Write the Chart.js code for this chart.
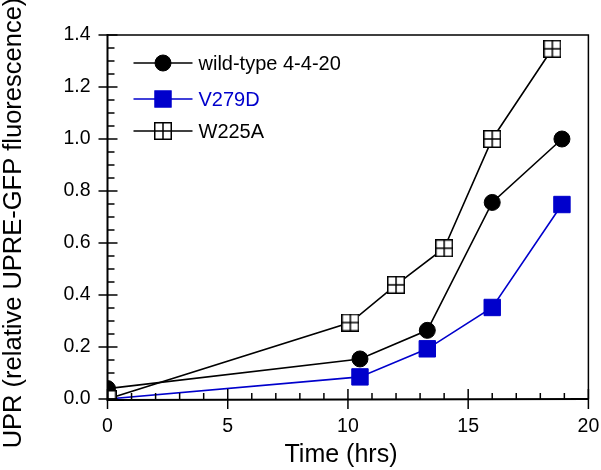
<!DOCTYPE html>
<html>
<head>
<meta charset="utf-8">
<script src="https://cdn.jsdelivr.net/npm/chart.js@4.4.1/dist/chart.umd.min.js"></script>
<style>
html,body{margin:0;padding:0;background:#fff;}
#wrap{width:601px;height:470px;position:relative;}
</style>
</head>
<body>
<div id="wrap"><canvas id="c" width="601" height="470"></canvas></div>
<script>
// ---- data ----
const seriesNames = ['wild-type 4-4-20', 'V279D', 'W225A'];
const wtX = [0, 10.5, 13.3, 16.0, 18.9];
const wtY = [0.04, 0.154, 0.264, 0.756, 1.0];
const v279dX = [0, 10.5, 13.3, 16.0, 18.9];
const v279dY = [0, 0.085, 0.193, 0.352, 0.748];
const w225aX = [0, 10.1, 12.0, 14.0, 16.0, 18.5];
const w225aY = [0, 0.294, 0.439, 0.58, 1.0, 1.347];
const xTicks = [0, 5, 10, 15, 20];
const yTicks = [0, 0.2, 0.4, 0.6, 0.8, 1.0, 1.2, 1.4];
const xTitle = 'Time (hrs)';
const yTitle = 'UPR (relative UPRE-GFP fluorescence)';

const BLUE = '#0000cc';
const FONT = '"Liberation Sans", Arial, Helvetica, sans-serif';

function pts(xs, ys){ return xs.map((x,i)=>({x:x, y:ys[i]})); }

// custom square-with-cross marker
function crossSquare(size){
  const c = document.createElement('canvas');
  c.width = size; c.height = size;
  const g = c.getContext('2d');
  g.fillStyle = '#fff';
  g.fillRect(0,0,size,size);
  g.strokeStyle = '#000';
  g.lineWidth = 1.5;
  g.strokeRect(0.75,0.75,size-1.5,size-1.5);
  g.beginPath();
  g.moveTo(size/2,0.75); g.lineTo(size/2,size-0.75);
  g.moveTo(0.75,size/2); g.lineTo(size-0.75,size/2);
  g.stroke();
  return c;
}
const crossImg = crossSquare(18);

const datasets = [
  {label: seriesNames[0], data: pts(wtX, wtY), borderColor:'#000', backgroundColor:'#000',
   borderWidth:1.6, pointStyle:'circle', pointRadius:8, pointBorderWidth:1, pointBackgroundColor:'#000', pointBorderColor:'#000', order:1},
  {label: seriesNames[1], data: pts(v279dX, v279dY), borderColor:BLUE, backgroundColor:BLUE,
   borderWidth:1.6, pointStyle:'rect', pointRadius:11.6, pointBorderWidth:1, pointBackgroundColor:BLUE, pointBorderColor:BLUE, order:2},
  {label: seriesNames[2], data: pts(w225aX, w225aY), borderColor:'#000', backgroundColor:'#fff',
   borderWidth:1.6, pointStyle:crossImg, pointRadius:9, order:0}
];

function drawMarker(ctx, ds, x, y){
  if (ds.pointStyle === 'circle'){
    ctx.beginPath(); ctx.arc(x, y, ds.pointRadius, 0, Math.PI*2);
    ctx.fillStyle = ds.pointBackgroundColor; ctx.fill();
    ctx.lineWidth = ds.pointBorderWidth; ctx.strokeStyle = ds.pointBorderColor; ctx.stroke();
  } else if (ds.pointStyle === 'rect'){
    const h = ds.pointRadius / Math.SQRT2;
    ctx.fillStyle = ds.pointBackgroundColor;
    ctx.fillRect(x - h, y - h, 2*h, 2*h);
    ctx.lineWidth = ds.pointBorderWidth; ctx.strokeStyle = ds.pointBorderColor;
    ctx.strokeRect(x - h, y - h, 2*h, 2*h);
  } else {
    const img = ds.pointStyle;
    ctx.drawImage(img, x - img.width/2, y - img.height/2);
  }
}

// ticks & frame & legend plugin
const decor = {
  id:'decor',
  afterDatasetsDraw(chart){
    const ctx = chart.ctx, a = chart.chartArea;
    const xs = chart.scales.x, ys = chart.scales.y;
    ctx.save();
    ctx.strokeStyle = '#000';
    // frame top/right
    ctx.lineWidth = 1.5;
    ctx.beginPath();
    ctx.moveTo(a.left, a.top); ctx.lineTo(a.right, a.top); ctx.lineTo(a.right, a.bottom);
    ctx.stroke();
    // axes
    ctx.lineWidth = 2;
    ctx.beginPath();
    ctx.moveTo(a.left, a.top - 1); ctx.lineTo(a.left, a.bottom + 1); ctx.lineTo(a.right, a.bottom);
    ctx.stroke();
    // x ticks
    ctx.lineWidth = 1.5;
    for (let v = 0; v <= 20; v += 1){
      const px = xs.getPixelForValue(v);
      ctx.beginPath();
      if (v % 5 === 0){ ctx.moveTo(px, a.bottom - 10); ctx.lineTo(px, a.bottom + 10); }
      else { ctx.moveTo(px, a.bottom - 6); ctx.lineTo(px, a.bottom); }
      ctx.stroke();
    }
    // y ticks
    for (let k = 0; k <= 28; k++){
      const v = k * 0.05;
      const py = ys.getPixelForValue(v);
      ctx.beginPath();
      if (k % 4 === 0){ ctx.moveTo(a.left - 9, py); ctx.lineTo(a.left + 10, py); }
      else { ctx.moveTo(a.left, py); ctx.lineTo(a.left + 7, py); }
      ctx.stroke();
    }
    ctx.restore();
  },
  afterDraw(chart){
    const ctx = chart.ctx, a = chart.chartArea;
    // axis titles
    ctx.save();
    ctx.fillStyle = '#000';
    ctx.textAlign = 'center';
    ctx.textBaseline = 'middle';
    ctx.font = '25px ' + FONT;
    ctx.fillText(xTitle, 341, 455);
    ctx.translate(14, 223);
    ctx.rotate(-Math.PI/2);
    ctx.font = '25.5px ' + FONT;
    ctx.fillText(yTitle, 0, 0);
    ctx.restore();
    // legend
    const lx0 = a.left + 26, lx1 = a.left + 85, tx = a.left + 91;
    const rows = [a.top + 28, a.top + 64, a.top + 96];
    const colors = ['#000', BLUE, '#000'];
    ctx.save();
    ctx.font = '20px ' + FONT;
    ctx.textBaseline = 'middle';
    chart.data.datasets.forEach((ds, i) => {
      const y = rows[i];
      ctx.strokeStyle = ds.borderColor;
      ctx.lineWidth = 1.5;
      ctx.beginPath(); ctx.moveTo(lx0, y); ctx.lineTo(lx1, y); ctx.stroke();
      drawMarker(ctx, ds, (lx0 + lx1) / 2, y);
      ctx.fillStyle = colors[i];
      ctx.fillText(ds.label, tx, y + 1);
    });
    ctx.restore();
  }
};

new Chart(document.getElementById('c'), {
  type:'line',
  data:{datasets},
  plugins:[decor],
  options:{
    responsive:false,
    animation:false,
    devicePixelRatio:1,
    layout:{padding:{top:35, right:9, left:0, bottom:0}},
    plugins:{legend:{display:false}, tooltip:{enabled:false}},
    scales:{
      x:{type:'linear', min:0, max:20,
        afterBuildTicks(s){ s.ticks = xTicks.map(v=>({value:v})); },
        afterFit(s){ s.height = 71; s.paddingLeft = 0; s.paddingRight = 0; },
        grid:{display:false, drawTicks:false},
        border:{display:false},
        ticks:{padding:16, color:'#000', font:{family:FONT, size:19.5}, maxRotation:0, callback:(v)=>String(v)},
        title:{display:false, text:xTitle}
      },
      y:{type:'linear', min:0, max:1.4,
        afterBuildTicks(s){ s.ticks = yTicks.map(v=>({value:v})); },
        afterFit(s){ s.width = 107.5; s.paddingTop = 0; s.paddingBottom = 0; },
        grid:{display:false, drawTicks:false},
        border:{display:false},
        ticks:{padding:17, color:'#000', font:{family:FONT, size:19.5}, callback:(v)=>Number(v).toFixed(1)},
        title:{display:false, text:yTitle}
      }
    }
  }
});
</script>
</body>
</html>
